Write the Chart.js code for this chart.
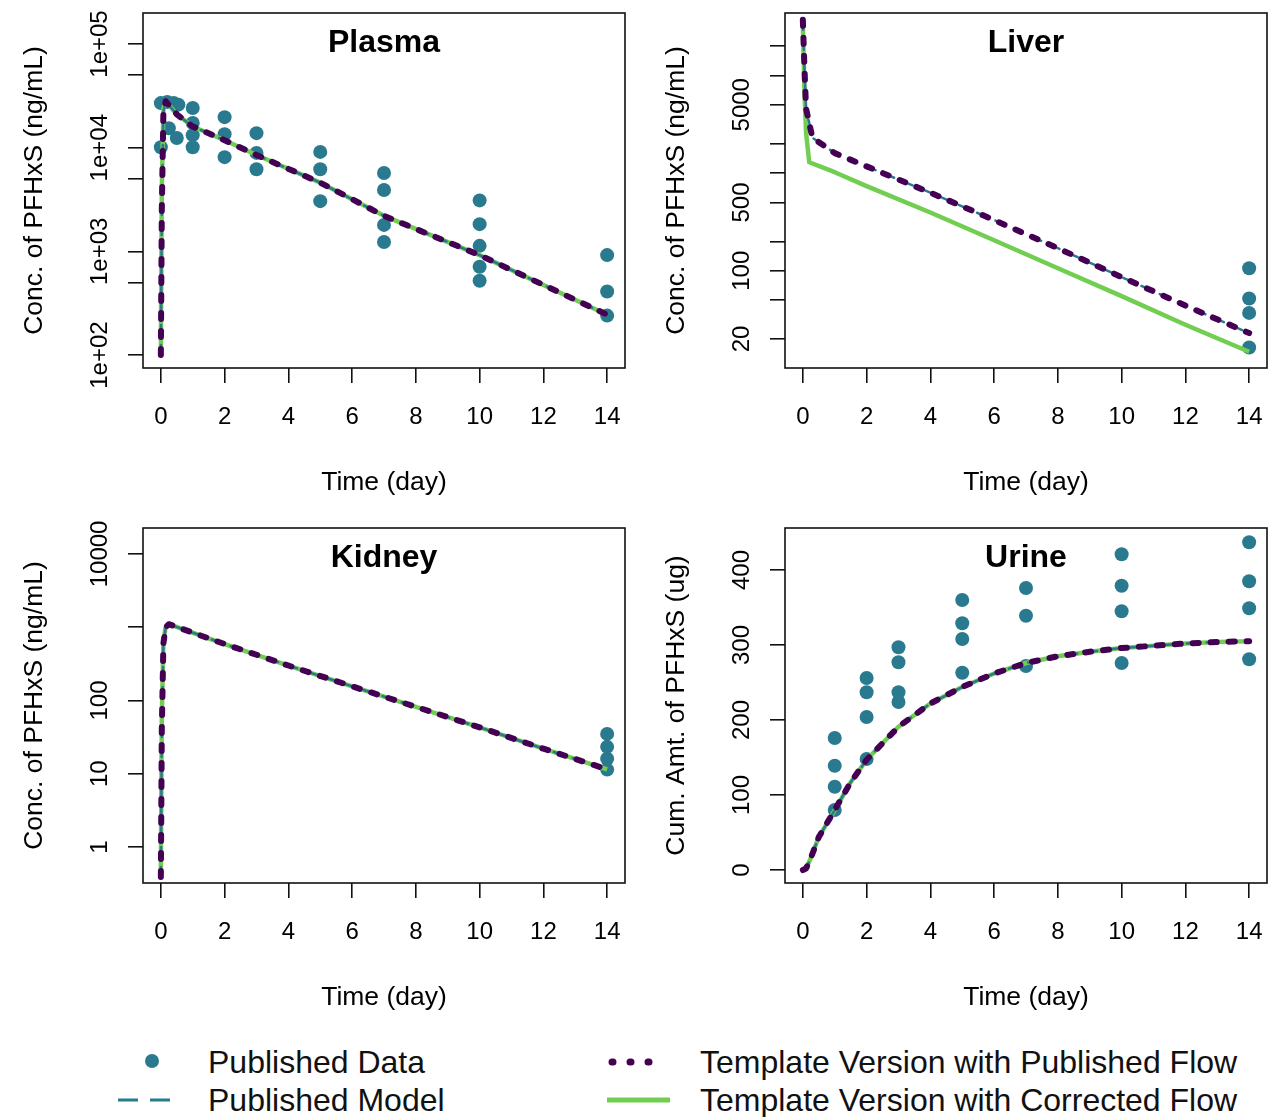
<!DOCTYPE html>
<html>
<head>
<meta charset="utf-8">
<script src="https://cdn.jsdelivr.net/npm/chart.js@4.4.1/dist/chart.umd.min.js"></script>
<style>
  body { margin: 0; background: #fff; width: 1287px; height: 1117px; position: relative; overflow: hidden; }
  canvas { position: absolute; }
  #legend { position: absolute; left: 0; top: 1030px; }
  #legend text { font-family: "Liberation Sans", Arial, sans-serif; font-size: 32px; fill: #111; }
</style>
</head>
<body>
<canvas id="plasma" width="643" height="515" style="left:0;top:0"></canvas>
<canvas id="liver" width="643" height="515" style="left:642px;top:0"></canvas>
<canvas id="kidney" width="643" height="515" style="left:0;top:515px"></canvas>
<canvas id="urine" width="643" height="515" style="left:642px;top:515px"></canvas>

<svg id="legend" width="1287" height="87">
  <circle cx="152" cy="31" r="7" fill="#2A7A8F"/>
  <text x="208" y="32" dominant-baseline="central">Published Data</text>
  <line x1="118" y1="70" x2="170" y2="70" stroke="#2A7A8F" stroke-width="3" stroke-dasharray="20 12"/>
  <text x="208" y="70" dominant-baseline="central">Published Model</text>
  <line x1="612" y1="32" x2="664" y2="32" stroke="#440154" stroke-width="7" stroke-linecap="round" stroke-dasharray="1 17"/>
  <text x="700" y="32" dominant-baseline="central">Template Version with Published Flow</text>
  <line x1="607" y1="70" x2="670" y2="70" stroke="#72CE50" stroke-width="5"/>
  <text x="700" y="70" dominant-baseline="central">Template Version with Corrected Flow</text>
</svg>

<script>
// ---- shared axis values ----
const xTicks = [0, 2, 4, 6, 8, 10, 12, 14];

// ---- Plasma ----
const plasmaObsDay  = [0, 0, 0.2, 0.25, 0.4, 0.5, 0.55, 1, 1, 1, 1, 2, 2, 2, 3, 3, 3, 5, 5, 5, 7, 7, 7, 7, 10, 10, 10, 10, 10, 14, 14, 14];
const plasmaObsConc = [26900, 10100, 27500, 15400, 27000, 12400, 26000, 24100, 17300, 13200, 10100, 19700, 13500, 8100, 13800, 8900, 6200, 9100, 6200, 3050, 5700, 3900, 1800, 1230, 3100, 1830, 1130, 710, 520, 920, 410, 240];
const plasmaModelDay = [0, 0.03, 0.08, 0.15, 0.5, 1, 2, 3, 5, 7, 10, 14];
const plasmaPubModel = [100, 2500, 22000, 28000, 21000, 16000, 11800, 8500, 4600, 2200, 920, 245];
const plasmaTplPub   = [100, 2500, 22000, 28000, 21000, 16000, 11800, 8500, 4600, 2200, 920, 245];
const plasmaTplCor   = [100, 4000, 24000, 28000, 21000, 16000, 11800, 8500, 4600, 2200, 920, 245];
const plasmaYTicks  = [1e2, 5e2, 1e3, 5e3, 1e4, 5e4, 1e5];
const plasmaYLabels = ['1e+02', '', '1e+03', '', '1e+04', '', '1e+05'];

// ---- Liver ----
const liverObsDay  = [14, 14, 14, 14];
const liverObsConc = [106, 52, 37, 16.4];
const liverModelDay = [0, 0.05, 0.1, 0.3, 1, 2, 4, 6, 8, 10, 12, 14];
const liverPubModel = [37000, 12000, 4600, 2300, 1600, 1170, 630, 330, 170, 86, 44, 23];
const liverTplPub   = [37000, 12000, 4600, 2300, 1600, 1170, 630, 330, 170, 86, 44, 23];
const liverCorDay   = [0, 0.05, 0.1, 0.2, 1, 2, 4, 6, 8, 10, 12, 14];
const liverTplCor   = [33000, 7000, 2600, 1290, 1020, 735, 395, 205, 106, 55, 28, 14.8];
const liverYTicks  = [20, 50, 100, 200, 500, 1000, 2000, 5000, 10000, 20000];
const liverYLabels = ['20', '', '100', '', '500', '', '', '5000', '', ''];

// ---- Kidney ----
const kidneyObsDay  = [14, 14, 14, 14];
const kidneyObsConc = [35, 23.3, 16, 11.4];
const kidneyModelDay = [0, 0.03, 0.08, 0.15, 0.25, 2, 4, 6, 8, 10, 12, 14];
const kidneyPubModel = [0.39, 40, 600, 1000, 1100, 590, 300, 156, 82, 43, 22, 11.5];
const kidneyTplPub   = [0.39, 40, 600, 1000, 1100, 590, 300, 156, 82, 43, 22, 11.5];
const kidneyTplCor   = [0.49, 60, 650, 1000, 1100, 590, 300, 156, 82, 43, 22, 11.5];
const kidneyYTicks  = [1, 10, 100, 1000, 10000];
const kidneyYLabels = ['1', '10', '100', '', '10000'];

// ---- Urine ----
const urineObsDay = [1, 1, 1, 1, 2, 2, 2, 2, 3, 3, 3, 3, 5, 5, 5, 5, 7, 7, 7, 10, 10, 10, 10, 14, 14, 14, 14];
const urineObsAmt = [176, 139, 111, 80, 256, 237, 204, 148, 297, 277, 237, 224, 360, 329, 308, 263, 376, 339, 272, 421, 379, 345, 276, 437, 385, 349, 281];
const urineModelDay = [0, 0.1, 0.25, 0.5, 1, 1.5, 2, 3, 4, 5, 6, 7, 8, 9, 10, 11, 12, 13, 14];
const urinePubModel = [0, 2, 16, 44, 80, 117, 147, 191, 222, 244, 262, 276, 285, 291, 296, 299, 302, 304, 305];
const urineTplPub   = [0, 2, 16, 44, 80, 117, 147, 191, 222, 244, 262, 276, 285, 291, 296, 299, 302, 304, 305];
const urineTplCor   = [0, 2, 16, 44, 80, 117, 147, 191, 222, 244, 262, 276, 285, 291, 296, 299, 302, 304, 305];
const urineYTicks  = [0, 100, 200, 300, 400];
const urineYLabels = ['0', '100', '200', '300', '400'];

const TEAL = '#2A7A8F', PURPLE = '#440154', GREEN = '#72CE50';
const FONT = '"Liberation Sans", Arial, sans-serif';

Chart.defaults.font.family = FONT;
Chart.defaults.color = '#000';

const pts = (xs, ys) => xs.map((x, i) => ({ x: x, y: ys[i] }));

// box, panel title and rotated y tick labels (R style)
function decor(cfg) {
  return {
    id: 'decor_' + cfg.id,
    afterDraw(chart) {
      const ctx = chart.ctx, a = chart.chartArea, ys = chart.scales.y;
      ctx.save();
      ctx.strokeStyle = '#111';
      ctx.lineWidth = 1.6;
      ctx.strokeRect(a.left, a.top, a.right - a.left, a.bottom - a.top);
      ctx.fillStyle = '#000';
      ctx.textAlign = 'center';
      ctx.textBaseline = 'middle';
      ctx.font = 'bold 32px ' + FONT;
      ctx.fillText(cfg.title, (a.left + a.right) / 2, a.top + 30);
      ctx.font = '24px ' + FONT;
      cfg.yTicks.forEach((v, i) => {
        if (!cfg.yLabels[i]) return;
        ctx.save();
        ctx.translate(a.left - 43, ys.getPixelForValue(v));
        ctx.rotate(-Math.PI / 2);
        ctx.fillText(cfg.yLabels[i], 0, 0);
        ctx.restore();
      });
      ctx.restore();
    }
  };
}

function panel(cfg) {
  const gridOpts = { drawOnChartArea: false, drawTicks: true, tickLength: 15, color: '#111', lineWidth: 1.6 };
  return new Chart(document.getElementById(cfg.id), {
    type: 'scatter',
    data: {
      datasets: [
        { label: 'Template Version with Published Flow', data: pts(cfg.tplPubDay, cfg.tplPub), showLine: true,
          borderColor: PURPLE, borderWidth: 6, borderDash: [6, 12], borderCapStyle: 'round', borderJoinStyle: 'round',
          pointRadius: 0, order: 0 },
        { label: 'Published Model', data: pts(cfg.pubDay, cfg.pub), showLine: true,
          borderColor: TEAL, borderWidth: 2.5, borderDash: [10, 10], borderCapStyle: 'round',
          pointRadius: 0, order: 1 },
        { label: 'Template Version with Corrected Flow', data: pts(cfg.corDay, cfg.cor), showLine: true,
          borderColor: GREEN, borderWidth: 4.5, borderJoinStyle: 'round',
          pointRadius: 0, order: 2 },
        { label: 'Published Data', data: pts(cfg.obsDay, cfg.obs),
          backgroundColor: TEAL, borderWidth: 0, pointRadius: 7, order: 3 }
      ]
    },
    options: {
      responsive: false,
      animation: false,
      events: [],
      layout: { padding: { top: 13, right: 18, left: 0, bottom: 0 }, autoPadding: false },
      plugins: { legend: { display: false }, tooltip: { enabled: false } },
      scales: {
        x: {
          type: 'linear', min: -0.56, max: 14.56, bounds: 'data',
          afterBuildTicks: s => { s.ticks = xTicks.map(v => ({ value: v })); },
          afterFit: s => { s.height = 147; },
          grid: gridOpts,
          border: { display: false },
          ticks: { color: '#000', font: { size: 24 }, padding: 19.5, maxRotation: 0, autoSkip: false,
                   callback: v => String(v) },
          title: { display: true, text: 'Time (day)', color: '#000', font: { size: 26.5 },
                   padding: { top: 0, bottom: 16 } }
        },
        y: {
          type: cfg.yType, min: cfg.yMin, max: cfg.yMax, bounds: 'data',
          afterBuildTicks: s => { s.ticks = cfg.yTicks.map(v => ({ value: v })); },
          afterFit: s => { s.width = 143; },
          grid: gridOpts,
          border: { display: false },
          ticks: { display: false },
          title: { display: true, text: cfg.yTitle, color: '#000', font: { size: 26.5 },
                   padding: { top: 19, bottom: 0 } }
        }
      }
    },
    plugins: [decor(cfg)]
  });
}

panel({ id: 'plasma', title: 'Plasma', yType: 'logarithmic', yMin: 75, yMax: 199000,
  yTicks: plasmaYTicks, yLabels: plasmaYLabels, yTitle: 'Conc. of PFHxS (ng/mL)',
  obsDay: plasmaObsDay, obs: plasmaObsConc,
  pubDay: plasmaModelDay, pub: plasmaPubModel,
  tplPubDay: plasmaModelDay, tplPub: plasmaTplPub,
  corDay: plasmaModelDay, cor: plasmaTplCor });

panel({ id: 'liver', title: 'Liver', yType: 'logarithmic', yMin: 10.1, yMax: 43500,
  yTicks: liverYTicks, yLabels: liverYLabels, yTitle: 'Conc. of PFHxS (ng/mL)',
  obsDay: liverObsDay, obs: liverObsConc,
  pubDay: liverModelDay, pub: liverPubModel,
  tplPubDay: liverModelDay, tplPub: liverTplPub,
  corDay: liverCorDay, cor: liverTplCor });

panel({ id: 'kidney', title: 'Kidney', yType: 'logarithmic', yMin: 0.323, yMax: 22600,
  yTicks: kidneyYTicks, yLabels: kidneyYLabels, yTitle: 'Conc. of PFHxS (ng/mL)',
  obsDay: kidneyObsDay, obs: kidneyObsConc,
  pubDay: kidneyModelDay, pub: kidneyPubModel,
  tplPubDay: kidneyModelDay, tplPub: kidneyTplPub,
  corDay: kidneyModelDay, cor: kidneyTplCor });

panel({ id: 'urine', title: 'Urine', yType: 'linear', yMin: -17.3, yMax: 456,
  yTicks: urineYTicks, yLabels: urineYLabels, yTitle: 'Cum. Amt. of PFHxS (ug)',
  obsDay: urineObsDay, obs: urineObsAmt,
  pubDay: urineModelDay, pub: urinePubModel,
  tplPubDay: urineModelDay, tplPub: urineTplPub,
  corDay: urineModelDay, cor: urineTplCor });
</script>
</body>
</html>
